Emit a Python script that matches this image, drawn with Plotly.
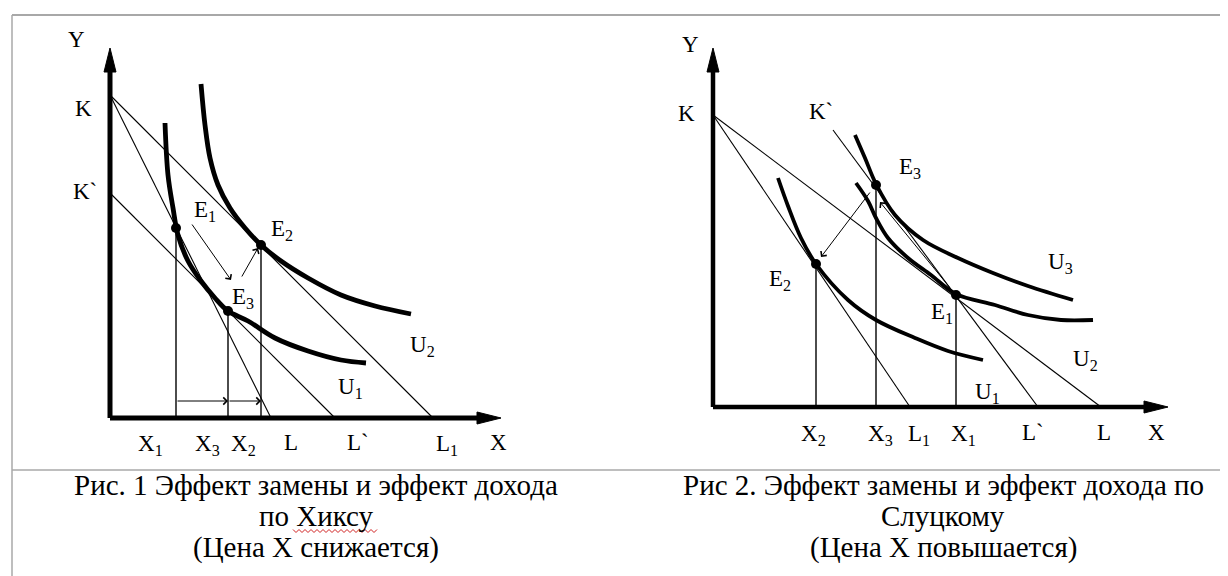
import plotly.graph_objects as go

W, H = 1228, 576
FONT = "Liberation Serif, Times New Roman, DejaVu Serif, serif"

# ---------------- Panel 1 (Hicks): local units, origin at axis crossing ----------------
p1_origin = (102, 410)
p1_x_tip, p1_y_tip = 391, 370
p1_K, p1_Kp = 323, 225            # intercepts on Y
p1_L, p1_Lp, p1_L1 = 161, 225, 323  # intercepts on X
p1_U1_x = [55, 58, 63, 68, 78, 91, 105, 118, 138, 165, 198, 231, 256]
p1_U1_y = [295, 243, 210, 183, 157, 137, 120, 107, 97, 80, 67, 58, 55]
p1_U2_x = [91, 95, 100, 108, 120, 135, 151, 171, 198, 231, 265, 301]
p1_U2_y = [334, 293, 260, 233, 210, 190, 173, 157, 140, 123, 112, 104]
p1_E_x = [66, 151, 118]
p1_E_y = [190, 173, 107]
p1_arrows = [  # (x_from, y_from, x_to, y_to)
    (66, 17, 118, 17), (118, 17, 151, 17),
    (81, 195, 121, 138), (131, 140, 148, 170)]
p1_labels = [
    ("Y", -34, 379), ("K", -27, 310), ("K`", -25, 227),
    ("E<sub>1</sub>", 95, 207), ("E<sub>2</sub>", 172, 188), ("E<sub>3</sub>", 133, 120),
    ("U<sub>2</sub>", 312, 72), ("U<sub>1</sub>", 240, 30),
    ("X<sub>1</sub>", 40, -27), ("X<sub>3</sub>", 97, -27), ("X<sub>2</sub>", 133, -27),
    ("L", 181, -24), ("L`", 248, -24), ("L<sub>1</sub>", 337, -27), ("X", 388, -24)]

# ---------------- Panel 2 (Slutsky) ----------------
p2_origin = (705, 399)
p2_x_tip, p2_y_tip = 455, 359
p2_K = 292
p2_L1, p2_L = 197, 388
p2_Kp_start = (120, 277)
p2_Lp = 325
p2_U1_x = [65, 75, 88, 103, 135, 163, 202, 235, 270]
p2_U1_y = [229, 201, 169, 143, 107, 87, 69, 56, 47]
p2_U2_x = [143, 155, 163, 175, 195, 218, 243, 282, 315, 348, 380]
p2_U2_y = [224, 206, 189, 169, 149, 132, 113, 102, 92, 87, 87]
p2_U3_x = [142, 152, 163, 182, 210, 245, 280, 315, 360]
p2_U3_y = [272, 249, 223, 192, 167, 149, 134, 121, 107]
p2_E_x = [243, 103, 163]
p2_E_y = [112, 143, 222]
p2_arrows = [(158, 216, 108, 150), (238, 118, 167, 205)]
p2_labels = [
    ("Y", -23, 363), ("K", -27, 294), ("K`", 108, 296),
    ("E<sub>3</sub>", 197, 239), ("E<sub>2</sub>", 67, 127), ("E<sub>1</sub>", 229, 94),
    ("U<sub>3</sub>", 347, 144), ("U<sub>2</sub>", 372, 47), ("U<sub>1</sub>", 274, 14),
    ("X<sub>2</sub>", 100, -28), ("X<sub>3</sub>", 167, -28), ("L<sub>1</sub>", 206, -28),
    ("X<sub>1</sub>", 250, -28), ("L`", 320, -25), ("L", 391, -25), ("X", 443, -25)]

captions_left = ["Рис. 1 Эффект замены и эффект дохода", "по Хиксу", "(Цена X снижается)"]
captions_right = ["Рис 2. Эффект замены и эффект дохода по", "Слуцкому", "(Цена X повышается)"]

HEAD_LEN, HEAD_HALF = 24, 6
AXIS_W, CURVE_W, THIN_W = 5, 4.8, 1.1

fig = go.Figure()


def add_line(xs, ys, xa, ya, width, shape="linear"):
    fig.add_trace(go.Scatter(x=xs, y=ys, mode="lines", xaxis=xa, yaxis=ya,
                             line=dict(color="black", width=width, shape=shape),
                             hoverinfo="skip", showlegend=False))


def add_axes(x_tip, y_tip, xa, ya, w):
    add_line([0, x_tip - HEAD_LEN + 4], [0, 0], xa, ya, w)
    add_line([0, 0], [0, y_tip - HEAD_LEN + 4], xa, ya, w)
    for px, py in ([[x_tip - HEAD_LEN, x_tip, x_tip - HEAD_LEN, x_tip - HEAD_LEN],
                    [HEAD_HALF, 0, -HEAD_HALF, HEAD_HALF]],
                   [[-HEAD_HALF, 0, HEAD_HALF, -HEAD_HALF],
                    [y_tip - HEAD_LEN, y_tip, y_tip - HEAD_LEN, y_tip - HEAD_LEN]]):
        fig.add_trace(go.Scatter(x=px, y=py, mode="lines", fill="toself", fillcolor="black",
                                 xaxis=xa, yaxis=ya, line=dict(color="black", width=1),
                                 hoverinfo="skip", showlegend=False))


annotations = []


def add_arrows(arrows, xr, yr):
    for x0, y0, x1, y1 in arrows:
        annotations.append(dict(x=x1, y=y1, ax=x0, ay=y0, xref=xr, yref=yr, axref=xr, ayref=yr,
                                text="", showarrow=True, arrowhead=4, arrowsize=1.4,
                                arrowwidth=1, arrowcolor="black", standoff=0))


def add_labels(labels, xr, yr):
    for t, x, y in labels:
        annotations.append(dict(x=x, y=y, xref=xr, yref=yr, text=t, showarrow=False,
                                font=dict(family=FONT, size=23, color="black"),
                                xanchor="center", yanchor="middle"))


# ---- panel 1 ----
add_axes(p1_x_tip, p1_y_tip, "x", "y", AXIS_W)
add_line([0, p1_L], [p1_K, 0], "x", "y", THIN_W)
add_line([0, p1_L1], [p1_K, 0], "x", "y", THIN_W)
add_line([0, p1_Lp], [p1_Kp, 0], "x", "y", THIN_W)
for ex, ey in zip(p1_E_x, p1_E_y):
    add_line([ex, ex], [0, ey], "x", "y", 1.4)
add_line(p1_U1_x, p1_U1_y, "x", "y", CURVE_W, "spline")
add_line(p1_U2_x, p1_U2_y, "x", "y", CURVE_W, "spline")
fig.add_trace(go.Scatter(x=p1_E_x, y=p1_E_y, mode="markers", xaxis="x", yaxis="y",
                         marker=dict(color="black", size=10), hoverinfo="skip", showlegend=False))
add_arrows(p1_arrows, "x", "y")
add_labels(p1_labels, "x", "y")

# ---- panel 2 ----
add_axes(p2_x_tip, p2_y_tip, "x2", "y2", 4.5)
add_line([0, p2_L1], [p2_K, 0], "x2", "y2", THIN_W)
add_line([0, p2_L], [p2_K, 0], "x2", "y2", THIN_W)
add_line([p2_Kp_start[0], p2_Lp], [p2_Kp_start[1], 0], "x2", "y2", THIN_W)
for ex, ey in zip(p2_E_x, p2_E_y):
    add_line([ex, ex], [0, ey], "x2", "y2", 1.4)
add_line(p2_U1_x, p2_U1_y, "x2", "y2", 3.8, "spline")
add_line(p2_U2_x, p2_U2_y, "x2", "y2", 3.8, "spline")
add_line(p2_U3_x, p2_U3_y, "x2", "y2", 3.8, "spline")
fig.add_trace(go.Scatter(x=p2_E_x, y=p2_E_y, mode="markers", xaxis="x2", yaxis="y2",
                         marker=dict(color="black", size=10), hoverinfo="skip", showlegend=False))
add_arrows(p2_arrows, "x2", "y2")
add_labels(p2_labels, "x2", "y2")

# ---- captions ----
CAP_SIZE = 29
cap_y = [477, 508, 539]
for lines, cx in ((captions_left, 308), (captions_right, 935)):
    for t, cy in zip(lines, cap_y):
        annotations.append(dict(x=cx / W, y=1 - cy / H, xref="paper", yref="paper", text=t,
                                showarrow=False, xanchor="center", yanchor="middle",
                                font=dict(family=FONT, size=CAP_SIZE, color="black")))

# frame and separator
frame_col = "#a8a8a8"
shapes = [
    dict(type="line", xref="paper", yref="paper", x0=4 / W, x1=1225 / W, y0=1 - 7 / H, y1=1 - 7 / H,
         line=dict(color=frame_col, width=2)),
    dict(type="line", xref="paper", yref="paper", x0=4 / W, x1=4 / W, y0=1 - 7 / H, y1=0,
         line=dict(color=frame_col, width=1.5)),
    dict(type="line", xref="paper", yref="paper", x0=1224 / W, x1=1224 / W, y0=1 - 7 / H, y1=0,
         line=dict(color=frame_col, width=1.5)),
    dict(type="line", xref="paper", yref="paper", x0=4 / W, x1=1225 / W, y0=1 - 462 / H, y1=1 - 462 / H,
         line=dict(color=frame_col, width=1.5)),
]

# red spell-check wavy underline under "Хиксу"
wx0, wx1, wy, step, amp = 285, 371, 523, 3, 1.5
pts = []
xw, k = wx0, 0
while xw <= wx1:
    pts.append((xw, wy + (amp if k % 2 else -amp)))
    xw += step
    k += 1
path = "M" + " L".join(f"{x},{H - y}" for x, y in pts)
shapes.append(dict(type="path", xref="x3", yref="y3", path=path,
                   line=dict(color="#d02020", width=1)))

ax_common = dict(visible=False, showgrid=False, zeroline=False, fixedrange=True)
fig.update_layout(
    width=W, height=H, margin=dict(l=0, r=0, t=0, b=0),
    paper_bgcolor="white", plot_bgcolor="white", showlegend=False,
    xaxis=dict(range=[-p1_origin[0], W - p1_origin[0]], domain=[0, 1], **ax_common),
    yaxis=dict(range=[-(H - p1_origin[1]), p1_origin[1]], domain=[0, 1], **ax_common),
    xaxis2=dict(range=[-p2_origin[0], W - p2_origin[0]], overlaying="x", anchor="y2", **ax_common),
    yaxis2=dict(range=[-(H - p2_origin[1]), p2_origin[1]], overlaying="y", anchor="x2", **ax_common),
    xaxis3=dict(range=[0, W], overlaying="x", anchor="y3", **ax_common),
    yaxis3=dict(range=[0, H], overlaying="y", anchor="x3", **ax_common),
    annotations=annotations, shapes=shapes,
)

fig.write_html("out.html")
